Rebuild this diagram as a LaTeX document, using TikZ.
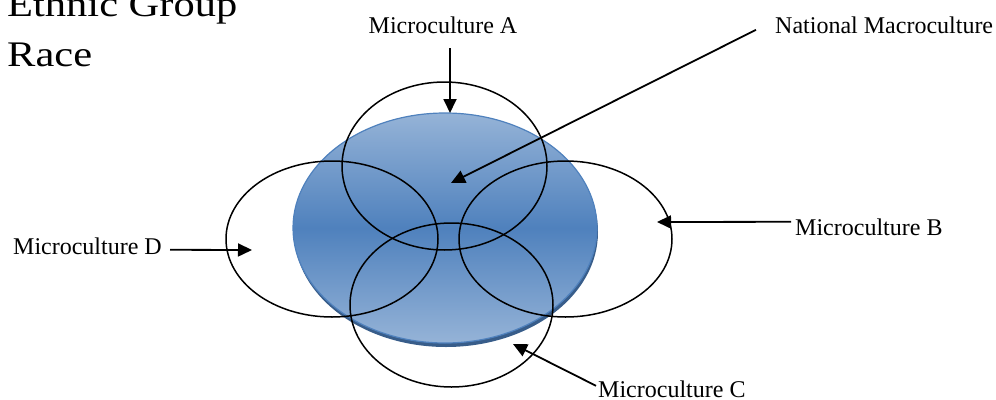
\documentclass[tikz,border=0pt]{standalone}
\usepackage{fontspec}
\setmainfont{Liberation Serif}
\usetikzlibrary{arrows.meta,calc}

\definecolor{macrolight}{RGB}{149,179,215}
\definecolor{macromid}{RGB}{79,129,189}
\definecolor{macrorim}{RGB}{56,93,138}

\tikzset{
    labeltext/.style={font=\fontsize{24}{28}\selectfont, inner sep=0pt},
    bigtext/.style={font=\fontsize{36}{40}\selectfont, inner sep=0pt, anchor=base west},
    micro/.style={line width=1.5pt},
    pointer/.style={line width=1.8pt, -{Triangle[length=14pt,width=13pt]}}
}

\begin{document}
\begin{tikzpicture}[x=1pt,y=-1pt]
    \useasboundingbox (0,0) rectangle (996,399);

    % Heading
    \node[bigtext] (ethnic) at (7,16) {\scalebox{1.18}[1]{Ethnic Group}};
    \node[bigtext] (race) at (7,66) {\scalebox{1.18}[1]{Race}};

    % National macroculture
    \fill[macrorim] (446,232) ellipse [x radius=152pt, y radius=115pt];
    \shade[top color=macrolight, bottom color=macrolight, middle color=macromid,
           draw=macromid, line width=1.2pt] (445,228) ellipse [x radius=152pt, y radius=115pt];

    % Microcultures
    \draw[micro] (444.5,166) ellipse [x radius=102.5pt, y radius=84pt];
    \draw[micro] (565.5,239) ellipse [x radius=106.5pt, y radius=78pt];
    \draw[micro] (451.5,305) ellipse [x radius=101.5pt, y radius=82pt];
    \draw[micro] (332,239) ellipse [x radius=106pt, y radius=78pt];

    % Labels
    \node[labeltext, anchor=base] (labA) at (443,33) {Microculture A};
    \node[labeltext, anchor=base west] (labN) at (775,33) {National Macroculture};
    \node[labeltext, anchor=base west] (labB) at (795,235) {Microculture B};
    \node[labeltext, anchor=base west] (labC) at (598,397) {Microculture C};
    \node[labeltext, anchor=base east] (labD) at (162,254) {Microculture D};

    % Arrow tips
    \coordinate (tipA) at (450,113);
    \coordinate (tipN) at (451,183);
    \coordinate (tipB) at (657,222);
    \coordinate (tipC) at (513,344);
    \coordinate (tipD) at (252,250);

    % Arrows
    \draw[pointer] ($(labA.south -| tipA)+(0,15)$) -- (tipA);
    \draw[pointer] ($(labN.west)+(-19,5)$) -- (tipN);
    \draw[pointer] ($(labB.west)+(-4,-5)$) -- (tipB);
    \draw[pointer] ($(labC.west)+(-2,-3)$) -- (tipC);
    \draw[pointer] ($(labD.east)+(8,4)$) -- (tipD);
\end{tikzpicture}
\end{document}
